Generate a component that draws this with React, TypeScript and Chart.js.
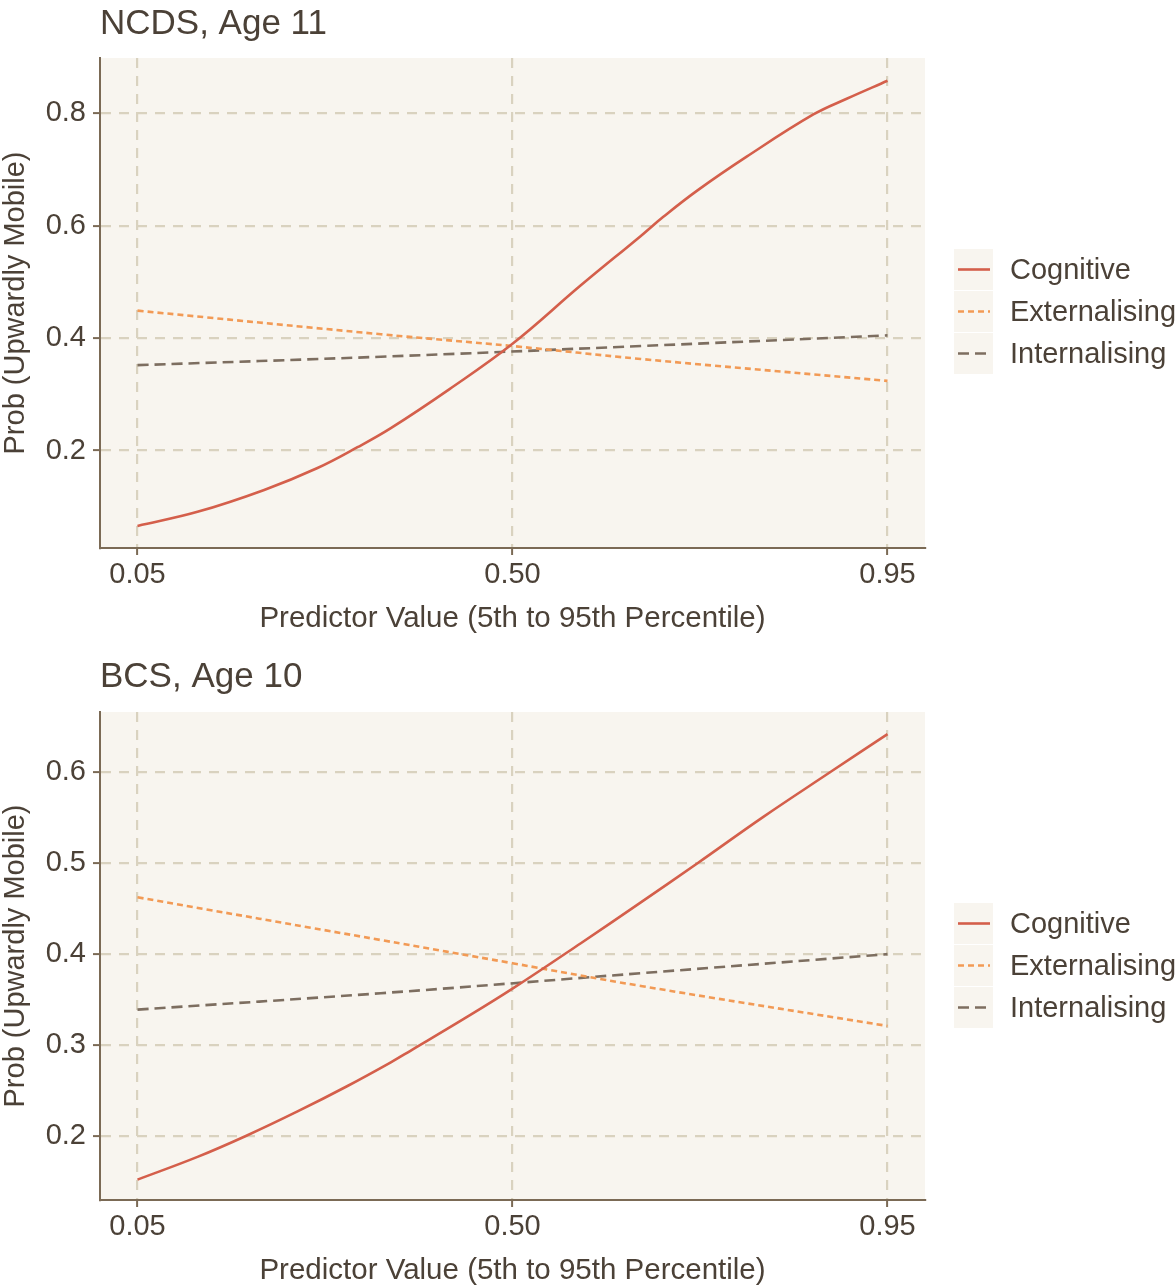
import React, { useEffect, useRef } from 'react';
import { Chart, registerables } from 'chart.js';

Chart.register(...registerables);

// ---------- data ----------
const SERIES_NAMES = ['Cognitive', 'Externalising', 'Internalising'];
const X_TICKS = [0.05, 0.5, 0.95];
const X_TICK_LABELS = ['0.05', '0.50', '0.95'];

// NCDS, Age 11
const ncdsCognitiveX = [0.05, 0.122, 0.202, 0.266, 0.314, 0.354, 0.424, 0.5, 0.582, 0.654, 0.681, 0.722, 0.781, 0.861, 0.901, 0.95];
const ncdsCognitiveY = [0.066, 0.091, 0.130, 0.169, 0.206, 0.240, 0.309, 0.390, 0.494, 0.582, 0.616, 0.663, 0.723, 0.798, 0.826, 0.858];
const ncdsExternalisingX = [0.05, 0.342, 0.5, 0.654, 0.95];
const ncdsExternalisingY = [0.449, 0.407, 0.386, 0.363, 0.324];
const ncdsInternalisingX = [0.05, 0.342, 0.654, 0.95];
const ncdsInternalisingY = [0.352, 0.367, 0.386, 0.405];
const ncdsYTicks = [0.2, 0.4, 0.6, 0.8];
const ncdsYTickLabels = ['0.2', '0.4', '0.6', '0.8'];

// BCS, Age 10
const bcsCognitiveX = [0.05, 0.122, 0.180, 0.242, 0.302, 0.354, 0.378, 0.442, 0.5, 0.582, 0.654, 0.722, 0.801, 0.881, 0.95];
const bcsCognitiveY = [0.152, 0.177, 0.200, 0.227, 0.255, 0.281, 0.294, 0.329, 0.362, 0.412, 0.457, 0.500, 0.551, 0.600, 0.642];
const bcsExternalisingX = [0.05, 0.342, 0.5, 0.654, 0.95];
const bcsExternalisingY = [0.4625, 0.4155, 0.390, 0.365, 0.321];
const bcsInternalisingX = [0.05, 0.342, 0.654, 0.95];
const bcsInternalisingY = [0.339, 0.357, 0.379, 0.400];
const bcsYTicks = [0.2, 0.3, 0.4, 0.5, 0.6];
const bcsYTickLabels = ['0.2', '0.3', '0.4', '0.5', '0.6'];

// ---------- styles ----------
const FONT = '"Liberation Sans", Arial, Helvetica, sans-serif';
const TEXT = '#4b4137';
const PANEL_BG = '#f8f5ef';
const GRID = '#d9d2bf';
const AXIS = '#7b6a55';
const COLORS = ['#d45f4b', '#f29a55', '#7d6e60'];
const DASHES: number[][] = [[], [6, 4], [11, 6]];

type PanelProps = {
  title: string;
  xs: number[][];
  ys: number[][];
  yTicks: number[];
  yTickLabels: string[];
  yMin: number;
  yMax: number;
  height: number;
  top: number;
  xAxisHeight: number;
  xTitlePad: number;
};

function Panel(props: PanelProps) {
  const ref = useRef<HTMLCanvasElement>(null);
  useEffect(() => {
    const p = props;
    const bgPlugin = {
      id: 'panelBg',
      beforeDraw(chart: any) {
        const { ctx, chartArea } = chart;
        ctx.save();
        ctx.fillStyle = PANEL_BG;
        ctx.fillRect(chartArea.left, chartArea.top, chartArea.right - chartArea.left, chartArea.bottom - chartArea.top);
        ctx.restore();
      },
    };
    const decoPlugin = {
      id: 'deco',
      afterDraw(chart: any) {
        const { ctx, chartArea } = chart;
        ctx.save();
        // title
        ctx.fillStyle = TEXT;
        ctx.font = `35px ${FONT}`;
        ctx.textAlign = 'left';
        ctx.textBaseline = 'alphabetic';
        ctx.fillText(p.title, chartArea.left, 34);
        // legend
        const legendTop = chartArea.top + 191;
        for (let i = 0; i < SERIES_NAMES.length; i++) {
          const rowTop = legendTop + i * 42;
          ctx.fillStyle = PANEL_BG;
          ctx.fillRect(954, rowTop, 39, 41);
          const cy = rowTop + 20.5;
          ctx.strokeStyle = COLORS[i];
          ctx.lineWidth = 2.6;
          ctx.setLineDash(DASHES[i]);
          ctx.beginPath();
          ctx.moveTo(958, cy);
          ctx.lineTo(990, cy);
          ctx.stroke();
          ctx.setLineDash([]);
          ctx.fillStyle = TEXT;
          ctx.font = `29px ${FONT}`;
          ctx.textBaseline = 'middle';
          ctx.fillText(SERIES_NAMES[i], 1010, cy + 1.5);
        }
        ctx.restore();
      },
    };

    const datasets = SERIES_NAMES.map((name, i) => ({
      label: name,
      data: p.xs[i].map((x, j) => ({ x, y: p.ys[i][j] })),
      borderColor: COLORS[i],
      backgroundColor: COLORS[i],
      borderWidth: 2.6,
      borderDash: DASHES[i],
      pointRadius: 0,
      fill: false,
      tension: 0.4,
    }));

    const chart = new Chart(ref.current as HTMLCanvasElement, {
      type: 'line',
      data: { datasets },
      options: {
        responsive: false,
        maintainAspectRatio: false,
        animation: false,
        layout: { padding: { top: p.top, right: 250, left: 0, bottom: 0 } },
        plugins: {
          legend: { display: false },
          tooltip: { enabled: false },
          title: { display: false },
        },
        scales: {
          x: {
            type: 'linear',
            min: 0.005,
            max: 0.995,
            afterBuildTicks: (s: any) => {
              s.ticks = X_TICKS.map((v) => ({ value: v }));
            },
            afterFit: (s: any) => {
              s.height = p.xAxisHeight;
            },
            ticks: {
              callback: (v: any) => X_TICK_LABELS[X_TICKS.indexOf(Number(v))],
              font: { family: FONT, size: 29 },
              color: TEXT,
              padding: 3,
              maxRotation: 0,
              autoSkip: false,
            },
            grid: {
              color: GRID,
              lineWidth: 2.2,
              tickColor: AXIS,
              tickLength: 7,
              tickWidth: 2,
              tickBorderDash: [],
            },
            border: { display: true, color: AXIS, width: 2, dash: [10, 8] },
            title: {
              display: true,
              text: 'Predictor Value (5th to 95th Percentile)',
              font: { family: FONT, size: 29.5, lineHeight: 1 },
              color: TEXT,
              padding: { top: 0, bottom: p.xTitlePad },
            },
          },
          y: {
            type: 'linear',
            min: p.yMin,
            max: p.yMax,
            afterBuildTicks: (s: any) => {
              s.ticks = p.yTicks.map((v) => ({ value: v }));
            },
            afterFit: (s: any) => {
              s.width = 100;
            },
            ticks: {
              callback: (v: any) => p.yTickLabels[p.yTicks.indexOf(Number(v))],
              font: { family: FONT, size: 29 },
              color: TEXT,
              padding: 7,
              autoSkip: false,
            },
            grid: {
              color: GRID,
              lineWidth: 2.2,
              tickColor: AXIS,
              tickLength: 7,
              tickWidth: 2,
              tickBorderDash: [],
            },
            border: { display: true, color: AXIS, width: 2, dash: [10, 8] },
            title: {
              display: true,
              text: 'Prob (Upwardly Mobile)',
              font: { family: FONT, size: 29, lineHeight: 1 },
              color: TEXT,
              padding: { top: 1.5, bottom: 0 },
            },
          },
        },
      } as any,
      plugins: [bgPlugin, decoPlugin],
    });
    return () => chart.destroy();
  }, []);
  return (
    <canvas
      ref={ref}
      width={1175}
      height={props.height}
      style={{ display: 'block', width: 1175, height: props.height }}
    />
  );
}

export default function App() {
  useEffect(() => {
    document.body.style.margin = '0';
  }, []);
  return (
    <div style={{ width: 1175, background: '#ffffff' }}>
      <Panel
        title="NCDS, Age 11"
        xs={[ncdsCognitiveX, ncdsExternalisingX, ncdsInternalisingX]}
        ys={[ncdsCognitiveY, ncdsExternalisingY, ncdsInternalisingY]}
        yTicks={ncdsYTicks}
        yTickLabels={ncdsYTickLabels}
        yMin={0.0267}
        yMax={0.8985}
        height={653}
        top={58}
        xAxisHeight={105}
        xTitlePad={19.5}
      />
      <Panel
        title="BCS, Age 10"
        xs={[bcsCognitiveX, bcsExternalisingX, bcsInternalisingX]}
        ys={[bcsCognitiveY, bcsExternalisingY, bcsInternalisingY]}
        yTicks={bcsYTicks}
        yTickLabels={bcsYTickLabels}
        yMin={0.1296}
        yMax={0.6663}
        height={633}
        top={59}
        xAxisHeight={86}
        xTitlePad={0.5}
      />
    </div>
  );
}
